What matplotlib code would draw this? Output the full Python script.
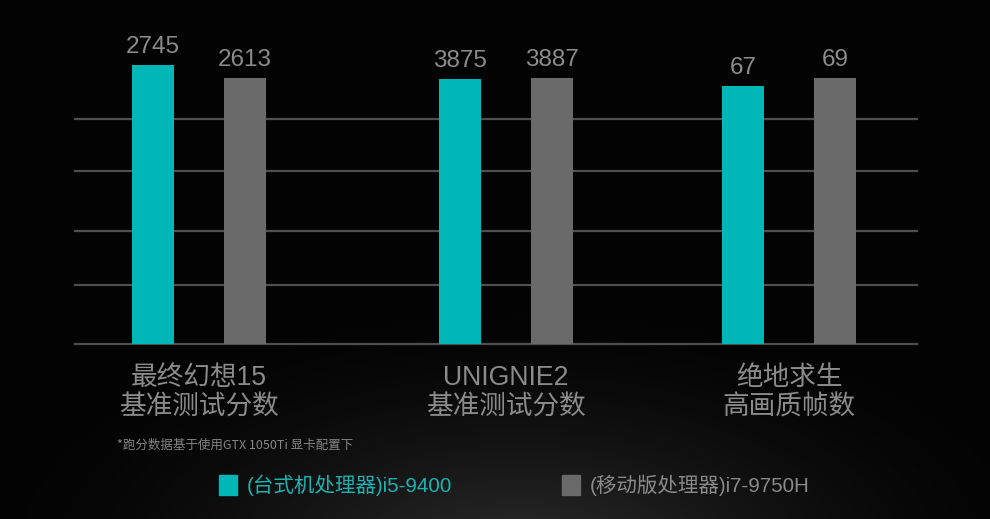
import numpy as np
import matplotlib
matplotlib.use("Agg")
import matplotlib.pyplot as plt
from matplotlib.patches import Rectangle

plt.rcParams['font.family'] = ['Liberation Sans', 'Noto Sans CJK SC', 'DejaVu Sans']

# Benchmark data
categories = ["最终幻想15\n基准测试分数", "UNIGNIE2\n基准测试分数", "绝地求生\n高画质帧数"]
series_names = ["(台式机处理器)i5-9400", "(移动版处理器)i7-9750H"]
desktop_i5 = [2745, 3875, 67]
mobile_i7 = [2613, 3887, 69]
footnote = "*跑分数据基于使用GTX 1050Ti 显卡配置下"

W, H = 990, 519
fig = plt.figure(figsize=(W / 100, H / 100), dpi=100)

# Dark background with a soft glow near the bottom centre
bg = fig.add_axes([0, 0, 1, 1], zorder=0)
yy, xx = np.mgrid[0:H, 0:W]
d = np.sqrt(((xx - 520) / 520.0) ** 2 + ((yy - 560) / 250.0) ** 2)
glow = np.clip(1 - d, 0, 1) ** 1.6
val = 0.015 + 0.17 * glow
img = np.dstack([val, val, val])
bg.imshow(img, extent=[0, W, H, 0], aspect='auto', interpolation='bilinear')
bg.set_xlim(0, W)
bg.set_ylim(H, 0)
bg.axis('off')

# Plot area in pixel-based layout
base_px, unit_px = 344, 266      # baseline row and height of a 1.0 bar
x0, x1 = 75, 917
top = 1.1
ax = fig.add_axes([x0 / W, (H - base_px) / H, (x1 - x0) / W, unit_px * top / H], zorder=1)
ax.set_facecolor('none')
ax.set_xlim(x0, x1)
ax.set_ylim(0, top)
ax.axis('off')

cyan = '#00b7b8'
grey = '#6a6a6a'
text_grey = '#8b8b8b'
PX = 72 / 100  # points per pixel

# Each benchmark is scaled against the mobile result
i5_rel = [a / b for a, b in zip(desktop_i5, mobile_i7)]
i7_rel = [1.0 for _ in mobile_i7]

centers = np.array([199, 506, 789])
offset, width = 46, 42

for gy in [0.0, 0.222, 0.425, 0.650, 0.846]:
    ax.axhline(gy, color='#4f4f4f', lw=1.6, zorder=1, clip_on=False)

b1 = ax.bar(centers - offset, i5_rel, width=width, color=cyan, zorder=2, clip_on=False)
b2 = ax.bar(centers + offset, i7_rel, width=width, color=grey, zorder=2, clip_on=False)

for bars, vals in [(b1, desktop_i5), (b2, mobile_i7)]:
    for rect, v in zip(bars, vals):
        ax.annotate(str(v), (rect.get_x() + rect.get_width() / 2, rect.get_height()),
                    xytext=(0, 12 * PX), textcoords='offset points',
                    ha='center', va='baseline', fontsize=17.5, color=text_grey)

for cx, label in zip(centers, categories):
    l1, l2 = label.split("\n")
    ax.annotate(l1, (cx, 0), xytext=(0, -41 * PX), textcoords='offset points',
                ha='center', va='baseline', fontsize=19.2, color=text_grey,
                fontweight='light', annotation_clip=False)
    ax.annotate(l2, (cx, 0), xytext=(0, -70.5 * PX), textcoords='offset points',
                ha='center', va='baseline', fontsize=19.2, color=text_grey,
                fontweight='light', annotation_clip=False)

fig.text(117 / W, 1 - 449 / H, footnote, fontsize=9, color='#858585',
         ha='left', va='baseline', family=['Noto Sans CJK SC', 'DejaVu Sans'])

# Legend
leg_items = [(219, cyan, '#1ab3b3', series_names[0]), (562, grey, '#8a8a8a', series_names[1])]
for lx, sq_col, txt_col, name in leg_items:
    fig.patches.append(Rectangle((lx / W, 1 - 495 / H), 18 / W, 20 / H,
                                 transform=fig.transFigure, color=sq_col, zorder=3))
    fig.text((lx + 28) / W, 1 - 492 / H, name, fontsize=14.8, color=txt_col,
             ha='left', va='baseline', fontweight='light')

fig.savefig('out.png', dpi=100, facecolor='black')
